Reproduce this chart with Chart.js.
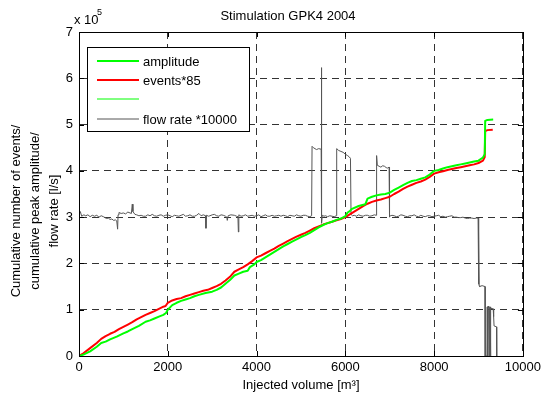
<!DOCTYPE html>
<html>
<head>
<meta charset="utf-8">
<script src="https://cdn.jsdelivr.net/npm/chart.js@4"></script>
<style>
  html, body { margin: 0; padding: 0; background: #fff; }
  canvas { display: block; }
</style>
</head>
<body>
<canvas id="c" width="545" height="396"></canvas>
<script>
// Injected volume [m³] vs. value (in units of 10^5)
const amplitudeCurve = [
  [0,0],[100,0.03],[250,0.10],[400,0.20],[500,0.28],[600,0.31],[700,0.36],[850,0.42],
  [1000,0.49],[1100,0.53],[1200,0.58],[1350,0.65],[1500,0.74],[1600,0.77],[1700,0.81],
  [1800,0.85],[1900,0.89],[1960,0.93],[2000,1.00],[2100,1.10],[2200,1.15],[2300,1.19],
  [2400,1.22],[2500,1.25],[2600,1.29],[2700,1.32],[2850,1.36],[3000,1.39],[3100,1.43],
  [3200,1.48],[3300,1.56],[3400,1.64],[3500,1.74],[3600,1.78],[3700,1.82],[3800,1.84],
  [3850,1.92],[3950,1.98],[4000,2.03],[4100,2.07],[4200,2.13],[4300,2.19],[4400,2.25],
  [4500,2.31],[4600,2.37],[4700,2.42],[4800,2.47],[4900,2.52],[5000,2.57],[5100,2.61],
  [5200,2.66],[5300,2.72],[5400,2.78],[5500,2.83],[5600,2.87],[5700,2.90],[5800,2.94],
  [5900,2.97],[6000,3.02],[6050,3.10],[6100,3.13],[6150,3.18],[6300,3.24],[6450,3.28],
  [6500,3.40],[6600,3.44],[6700,3.47],[6800,3.49],[6900,3.50],[7000,3.53],[7100,3.59],
  [7200,3.64],[7300,3.69],[7400,3.74],[7500,3.78],[7600,3.80],[7700,3.83],[7800,3.86],
  [7900,3.92],[8000,4.00],[8100,4.02],[8200,4.05],[8300,4.08],[8400,4.10],[8500,4.12],
  [8600,4.14],[8700,4.16],[8800,4.18],[8900,4.20],[9000,4.22],[9100,4.29],[9140,4.36],
  [9150,5.08],[9200,5.10],[9330,5.11]
];

const eventsCurve = [
  [0,0],[100,0.06],[250,0.17],[400,0.28],[500,0.37],[600,0.43],[700,0.48],[800,0.52],
  [900,0.58],[1000,0.63],[1100,0.68],[1200,0.73],[1300,0.79],[1400,0.84],[1500,0.89],
  [1600,0.93],[1700,0.97],[1800,1.02],[1900,1.065],[1950,1.08],[2000,1.15],[2100,1.20],
  [2200,1.23],[2300,1.25],[2400,1.29],[2500,1.32],[2600,1.35],[2700,1.38],[2800,1.41],
  [2900,1.43],[3000,1.47],[3100,1.51],[3200,1.56],[3300,1.63],[3400,1.71],[3500,1.82],
  [3600,1.87],[3700,1.92],[3800,1.98],[3900,2.05],[4000,2.13],[4100,2.17],[4200,2.22],
  [4300,2.27],[4400,2.32],[4500,2.38],[4600,2.43],[4700,2.48],[4800,2.53],[4900,2.58],
  [5000,2.62],[5100,2.66],[5200,2.71],[5300,2.76],[5400,2.80],[5500,2.84],[5600,2.87],
  [5700,2.90],[5800,2.93],[5900,2.96],[6000,3.00],[6100,3.06],[6200,3.12],[6300,3.18],
  [6400,3.24],[6500,3.29],[6600,3.33],[6700,3.36],[6800,3.38],[6900,3.41],[7000,3.44],
  [7100,3.50],[7200,3.55],[7300,3.61],[7400,3.66],[7500,3.70],[7600,3.74],[7700,3.77],
  [7800,3.81],[7900,3.87],[8000,3.94],[8100,3.97],[8200,3.99],[8300,4.02],[8400,4.04],
  [8500,4.06],[8600,4.08],[8700,4.10],[8800,4.12],[8900,4.14],[9000,4.17],[9100,4.22],
  [9140,4.30],[9150,4.86],[9200,4.88],[9320,4.89]
];

const flowRateCurve = [
  [0,3.08],[30,3.12],[60,3.02],[110,3.05],[150,3.03],[200,3.05],[250,3.01],[300,3.04],
  [350,3.02],[400,3.04],[450,3.00],[500,3.03],[550,3.01],[620,2.97],[660,2.98],[700,2.95],
  [740,2.96],[780,2.93],[820,2.94],[850,2.92],[870,2.74],[880,3.05],[900,3.10],[950,3.08],
  [1000,3.09],[1050,3.07],[1100,3.11],[1150,3.09],[1180,3.08],[1200,3.28],[1215,3.12],
  [1260,3.06],[1300,3.05],[1350,3.03],[1400,3.04],[1450,3.02],[1500,3.02],[1550,3.05],
  [1600,3.03],[1650,3.06],[1700,3.03],[1750,3.02],[1800,3.04],[1850,3.05],[1900,3.02],
  [1950,3.04],[2000,3.05],[2050,3.03],[2100,3.01],[2150,3.04],[2200,3.03],[2250,3.02],
  [2300,3.04],[2350,3.06],[2400,3.02],[2450,3.03],[2500,3.05],[2550,3.02],[2600,3.02],
  [2650,3.04],[2700,3.08],[2750,3.03],[2800,3.05],[2850,3.03],[2860,2.76],[2870,3.04],
  [2920,3.02],[2950,3.03],[3000,3.05],[3050,3.06],[3100,3.03],[3150,3.02],[3200,3.05],
  [3250,3.04],[3300,3.02],[3330,3.00],[3340,2.93],[3360,3.03],[3420,3.05],[3500,3.04],
  [3550,3.02],[3580,3.01],[3590,2.68],[3600,3.05],[3650,3.02],[3700,3.03],[3750,3.05],
  [3800,3.02],[3850,3.03],[3900,3.04],[3950,3.02],[4000,3.03],[4050,3.05],[4100,3.01],
  [4150,3.03],[4200,3.05],[4250,3.02],[4300,3.02],[4350,3.04],[4400,3.02],[4450,3.03],
  [4500,3.04],[4550,3.02],[4600,3.04],[4650,3.03],[4700,3.01],[4750,3.04],[4800,3.03],
  [4850,3.02],[4900,3.05],[4950,3.03],[5000,3.02],[5050,3.04],[5100,3.04],[5150,3.02],
  [5200,3.01],[5240,3.03],[5250,4.53],[5280,4.50],[5350,4.46],[5400,4.48],[5440,4.47],
  [5455,4.48],[5460,6.23],[5468,2.87],[5480,3.04],[5520,3.02],[5550,3.03],[5600,3.01],
  [5650,3.03],[5700,3.02],[5750,3.01],[5795,3.03],[5805,4.48],[5850,4.44],[5900,4.42],
  [5950,4.40],[6000,4.36],[6050,4.33],[6090,4.30],[6115,4.27],[6128,3.06],[6160,3.03],
  [6200,3.04],[6250,3.02],[6300,3.05],[6350,3.03],[6400,3.02],[6450,3.04],[6500,3.04],
  [6550,3.02],[6600,3.03],[6650,3.05],[6695,3.04],[6704,4.33],[6720,4.12],[6760,4.10],
  [6800,4.08],[6840,4.11],[6880,4.10],[6920,4.07],[6950,4.06],[6985,4.08],[6990,3.00],
  [7000,3.02],[7050,3.04],[7100,3.03],[7150,3.01],[7200,3.02],[7250,3.05],[7300,3.04],
  [7350,3.02],[7400,3.01],[7450,3.03],[7500,3.03],[7550,3.05],[7600,3.02],[7650,3.01],
  [7700,3.04],[7750,3.02],[7800,3.01],[7850,3.03],[7900,3.03],[7950,3.01],[8000,3.02],
  [8050,3.03],[8100,3.04],[8150,3.01],[8200,3.02],[8250,3.00],[8300,3.01],[8350,3.02],
  [8400,3.03],[8450,3.00],[8500,3.00],[8550,2.99],[8600,2.99],[8650,3.00],[8700,2.98],
  [8750,2.97],[8800,2.98],[8850,2.98],[8900,2.97],[8950,2.98],
  [8990,2.98],[8995,1.60],[9000,2.95],[9005,1.55],[9010,2.70],[9015,1.52],[9025,1.50],
  [9080,1.52],[9146,1.50],[9150,0.00],[9190,0.00],[9196,1.06],[9205,0.00],[9215,1.08],
  [9230,1.04],[9236,0.00],[9246,1.05],[9262,1.06],[9268,0.00],[9278,1.03],[9330,1.02],
  [9340,0.85],[9350,0.65],[9405,0.63],[9410,0.00]
];

const xTicks = [0, 2000, 4000, 6000, 8000, 10000];
const yTicks = [0, 1, 2, 3, 4, 5, 6, 7];

const titleText = 'Stimulation GPK4 2004';
const xTitle = 'Injected volume [m\u00B3]';
const yTitle = ['Cumulative number of events/', 'cumulative peak amplitude/', 'flow rate [l/s]'];

const FONT = "Arial, 'Liberation Sans', Helvetica, sans-serif";

const toPoints = arr => arr.map(([x, y]) => ({ x, y }));

// Box, inward ticks, titles, exponent and the legend box
const framePlugin = {
  id: 'frame',
  afterDraw(chart) {
    const { ctx, chartArea: a, scales } = chart;
    const xs = scales.x, ys = scales.y;
    ctx.save();
    ctx.strokeStyle = '#000';
    ctx.lineWidth = 1;
    // inward tick marks on all four sides
    ctx.beginPath();
    xTicks.forEach(v => {
      const px = Math.round(xs.getPixelForValue(v)) + 0.5;
      ctx.moveTo(px, a.bottom); ctx.lineTo(px, a.bottom - 5);
      ctx.moveTo(px, a.top); ctx.lineTo(px, a.top + 5);
    });
    yTicks.forEach(v => {
      const py = Math.round(ys.getPixelForValue(v)) + 0.5;
      ctx.moveTo(a.left, py); ctx.lineTo(a.left + 5, py);
      ctx.moveTo(a.right, py); ctx.lineTo(a.right - 5, py);
    });
    ctx.stroke();
    // axes box
    ctx.strokeRect(Math.round(a.left) + 0.5, Math.round(a.top) + 0.5,
                   Math.round(a.right - a.left), Math.round(a.bottom - a.top));

    ctx.fillStyle = '#000';
    // title
    ctx.font = '13px ' + FONT;
    ctx.textAlign = 'center';
    ctx.textBaseline = 'alphabetic';
    ctx.fillText(titleText, 288, 20);
    // x axis title
    ctx.fillText(xTitle, 301, 389);
    // y axis title (rotated, three lines)
    ctx.save();
    ctx.translate(0, 211);
    ctx.rotate(-Math.PI / 2);
    ctx.textBaseline = 'middle';
    yTitle.forEach((t, i) => ctx.fillText(t, 0, 16 + i * 19));
    ctx.restore();
    // exponent label
    ctx.textAlign = 'left';
    ctx.fillText('x 10', 74, 24);
    ctx.font = '9px ' + FONT;
    ctx.fillText('5', 97, 15);

    // legend
    const lx = 87, ly = 47, lw = 162, lh = 84;
    ctx.fillStyle = '#fff';
    ctx.fillRect(lx, ly, lw, lh);
    ctx.strokeStyle = '#000';
    ctx.lineWidth = 1;
    ctx.strokeRect(lx + 0.5, ly + 0.5, lw, lh);
    ctx.font = '13px ' + FONT;
    ctx.textBaseline = 'middle';
    ctx.textAlign = 'left';
    const rows = [61, 80, 99, 119];
    chart.data.datasets.forEach((ds, i) => {
      const y = rows[i];
      ctx.strokeStyle = ds.borderColor;
      ctx.lineWidth = ds.borderWidth;
      ctx.beginPath();
      ctx.moveTo(97, y); ctx.lineTo(139, y);
      ctx.stroke();
      ctx.fillStyle = '#000';
      ctx.fillText(ds.label, 143, y + 1);
    });
    ctx.restore();
  }
};

new Chart(document.getElementById('c'), {
  type: 'line',
  data: {
    datasets: [
      { label: 'amplitude', data: toPoints(amplitudeCurve), borderColor: '#00ff00', borderWidth: 2 },
      { label: 'events*85', data: toPoints(eventsCurve), borderColor: '#ff0000', borderWidth: 2 },
      { label: '', data: [], borderColor: '#00ff00', borderWidth: 1 },
      { label: 'flow rate *10000', data: toPoints(flowRateCurve), borderColor: '#555555', borderWidth: 1 }
    ]
  },
  options: {
    responsive: false,
    animation: false,
    devicePixelRatio: 1,
    layout: { padding: { top: 32, right: 21, left: 0, bottom: 0 } },
    elements: {
      point: { radius: 0 },
      line: { tension: 0, fill: false, borderJoinStyle: 'round' }
    },
    plugins: {
      legend: { display: false },
      title: { display: false },
      tooltip: { enabled: false }
    },
    scales: {
      x: {
        type: 'linear',
        min: 0, max: 10000,
        afterFit: s => { s.height = 40; },
        afterBuildTicks: s => { s.ticks = xTicks.map(v => ({ value: v })); },
        ticks: { font: { size: 13, family: FONT }, color: '#000', padding: 4, maxRotation: 0,
                 callback: v => String(v) },
        grid: { color: '#333', lineWidth: 1, drawTicks: false },
        border: { display: true, color: '#000', dash: [7, 5] }
      },
      y: {
        type: 'linear',
        min: 0, max: 7,
        afterFit: s => { s.width = 79; },
        afterBuildTicks: s => { s.ticks = yTicks.map(v => ({ value: v })); },
        ticks: { font: { size: 13, family: FONT }, color: '#000', padding: 6,
                 callback: v => String(v) },
        grid: { color: '#333', lineWidth: 1, drawTicks: false },
        border: { display: true, color: '#000', dash: [7, 5] }
      }
    }
  },
  plugins: [framePlugin]
});
</script>
</body>
</html>
